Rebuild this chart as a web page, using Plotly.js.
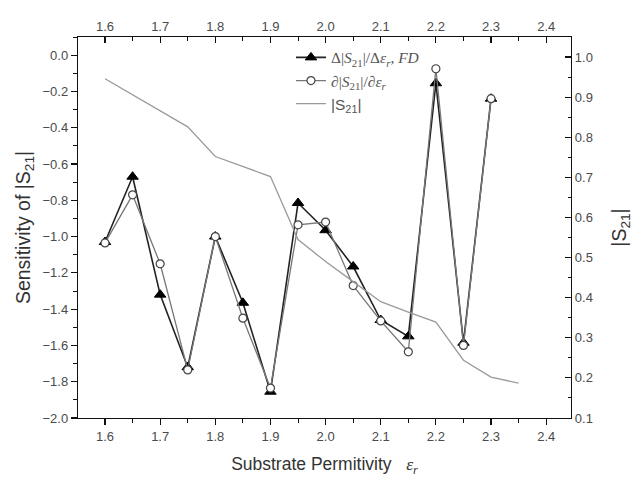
<!DOCTYPE html>
<html>
<head>
<meta charset="utf-8">
<script src="https://cdn.plot.ly/plotly-3.0.1.min.js"></script>
<style>html,body{margin:0;padding:0;background:#fff;}#chart{width:639px;height:478px;}</style>
</head>
<body>
<div id="chart"></div>
<script>
// Substrate permittivity values (x)
const eps = [1.6, 1.65, 1.7, 1.75, 1.8, 1.85, 1.9, 1.95, 2.0, 2.05, 2.1, 2.15, 2.2, 2.25, 2.3];
// Finite-difference sensitivity (filled triangles)
const sensFD = [-1.03, -0.67, -1.32, -1.72, -1.00, -1.365, -1.855, -0.815, -0.965, -1.165, -1.46, -1.55, -0.155, -1.585, -0.24];
// Analytical sensitivity (open circles)
const sensAn = [-1.035, -0.77, -1.15, -1.735, -1.00, -1.45, -1.835, -0.935, -0.92, -1.27, -1.465, -1.635, -0.075, -1.60, -0.24];
// |S21| curve (right axis)
const epsS21 = [1.6, 1.65, 1.7, 1.75, 1.8, 1.85, 1.9, 1.95, 2.0, 2.05, 2.1, 2.15, 2.2, 2.25, 2.3, 2.35];
const s21 = [0.946, 0.906, 0.866, 0.826, 0.752, 0.727, 0.702, 0.545, 0.49, 0.44, 0.39, 0.364, 0.339, 0.244, 0.202, 0.187];

const xRange = [1.551, 2.445];

const traces = [
  {
    x: eps, y: sensFD, type: 'scatter', mode: 'lines+markers',
    name: 'Δ|<i>S</i><sub>21</sub>|/Δ<i>ε</i><sub><i>r</i></sub>, <i>FD</i>',
    line: {color: '#222', width: 1.6},
    marker: {symbol: 'triangle-up', size: 10, color: '#000', line: {color: '#000', width: 1}},
    xaxis: 'x', yaxis: 'y'
  },
  {
    x: eps, y: sensAn, type: 'scatter', mode: 'lines+markers',
    name: '∂|<i>S</i><sub>21</sub>|/∂<i>ε</i><sub><i>r</i></sub>',
    line: {color: '#777', width: 1.3},
    marker: {symbol: 'circle', size: 8, color: '#fff', line: {color: '#444', width: 1.2}},
    xaxis: 'x', yaxis: 'y'
  },
  {
    x: epsS21, y: s21, type: 'scatter', mode: 'lines',
    name: '<span style="font-family:Liberation Sans,Arial">|S<sub>21</sub>|</span>',
    line: {color: '#9a9a9a', width: 1.3},
    xaxis: 'x2', yaxis: 'y2'
  }
];

const tickFont = {family: 'Liberation Sans, Arial, sans-serif', size: 13, color: '#4a4a4a'};

const layout = {
  width: 639, height: 478,
  margin: {l: 78, r: 68, t: 37, b: 60},
  paper_bgcolor: '#fff', plot_bgcolor: '#fff',
  showlegend: true,
  legend: {
    x: 0.432, y: 0.99, xanchor: 'left', yanchor: 'top',
    bgcolor: 'rgba(255,255,255,0)', borderwidth: 0,
    font: {family: 'Liberation Serif, Times New Roman, serif', size: 15.5, color: '#555'},
    itemwidth: 30, tracegroupgap: 0
  },
  xaxis: {
    range: xRange, dtick: 0.1, tick0: 1.6, tickformat: '.1f',
    showgrid: false, zeroline: false,
    showline: true, linecolor: '#111', linewidth: 1.2,
    ticks: 'outside', ticklen: 6, tickwidth: 1.2, tickcolor: '#111',
    minor: {dtick: 0.05, tick0: 1.6, ticks: 'outside', ticklen: 3.5, tickwidth: 1, tickcolor: '#111', showgrid: false},
    tickfont: tickFont,
    title: {text: 'Substrate Permitivity   <span style="font-family:Liberation Serif,Times New Roman,serif"><i>ε<sub>r</sub></i></span>', font: {family: 'Liberation Sans, Arial, sans-serif', size: 17.5, color: '#333'}, standoff: 15}
  },
  xaxis2: {
    range: xRange, dtick: 0.1, tick0: 1.6, tickformat: '.1f',
    overlaying: 'x', side: 'top', anchor: 'y2',
    showgrid: false, zeroline: false,
    showline: true, linecolor: '#111', linewidth: 1.2,
    ticks: 'inside', ticklen: 6, tickwidth: 1.2, tickcolor: '#111',
    minor: {dtick: 0.05, tick0: 1.6, ticks: 'inside', ticklen: 3.5, tickwidth: 1, tickcolor: '#111', showgrid: false},
    tickfont: tickFont
  },
  yaxis: {
    range: [-2.0, 0.1], dtick: 0.2, tick0: 0, tickformat: '.1f',
    showgrid: false, zeroline: false,
    showline: true, linecolor: '#111', linewidth: 1.2,
    ticks: 'outside', ticklen: 6, tickwidth: 1.2, tickcolor: '#111',
    minor: {dtick: 0.1, tick0: 0, ticks: 'outside', ticklen: 3.5, tickwidth: 1, tickcolor: '#111', showgrid: false},
    tickfont: tickFont,
    title: {text: 'Sensitivity of |S<sub>21</sub>|', font: {family: 'Liberation Sans, Arial, sans-serif', size: 19.5, color: '#333'}, standoff: 6}
  },
  yaxis2: {
    range: [0.1, 1.05], dtick: 0.1, tick0: 0.1, tickformat: '.1f',
    overlaying: 'y', side: 'right', anchor: 'x',
    showgrid: false, zeroline: false,
    showline: true, linecolor: '#111', linewidth: 1.2,
    ticks: 'inside', ticklen: 6, tickwidth: 1.2, tickcolor: '#111',
    minor: {dtick: 0.05, tick0: 0.1, ticks: 'inside', ticklen: 3.5, tickwidth: 1, tickcolor: '#111', showgrid: false},
    tickfont: tickFont,
    title: {text: '|S<sub>21</sub>|', font: {family: 'Liberation Sans, Arial, sans-serif', size: 19.5, color: '#333'}, standoff: 20}
  }
};

Plotly.newPlot('chart', traces, layout, {displayModeBar: false, staticPlot: true});
</script>
</body>
</html>
